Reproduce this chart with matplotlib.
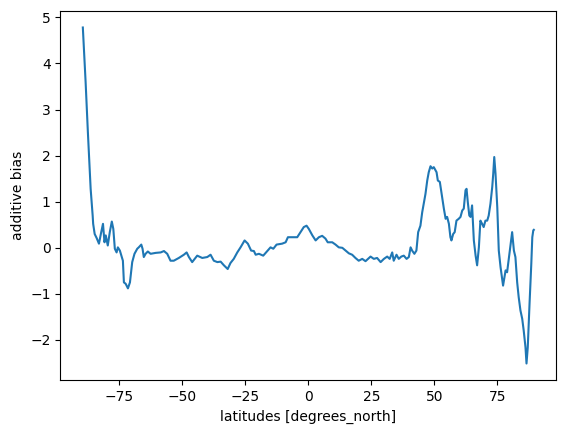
import matplotlib
matplotlib.use("Agg")
import matplotlib.pyplot as plt

# valeurs (latitude, biais additif)
lats = [-89.5, -88.4, -87.5, -86.4, -85.6, -85.4, -84.8, -84.0, -83.1, -82.2,
        -81.5, -80.9, -80.4, -79.6, -78.8, -78.0, -77.4, -76.8, -76.1, -75.6,
        -74.8, -74.2, -73.6, -73.2, -72.5, -71.6, -70.8, -69.9, -69.0, -67.9,
        -67.3, -66.3, -65.8, -65.3, -64.6, -63.7, -62.6, -60.6, -58.6, -57.3,
        -56.0, -54.7, -53.4, -51.4, -49.4, -48.3, -47.4, -46.1, -44.1, -42.1,
        -40.1, -38.8, -37.5, -36.1, -34.8, -33.5, -32.0, -30.9, -29.6, -28.2,
        -26.9, -25.3, -24.0, -22.7, -21.6, -20.9, -19.6, -17.9, -16.3, -15.0,
        -13.9, -12.6, -10.4, -9.0, -8.1, -6.4, -4.4, -3.1, -1.8, -0.7,
        0.2, 1.6, 2.9, 4.2, 5.5, 6.8, 7.7, 9.5, 10.8, 12.1,
        13.5, 14.8, 16.1, 17.4, 18.7, 20.0, 21.4, 22.7, 24.7, 26.0,
        27.3, 28.7, 30.0, 31.3, 32.3, 33.3, 33.9, 35.0, 35.9, 36.9,
        37.9, 39.0, 39.9, 40.6, 41.2, 42.1, 42.9, 43.6, 44.5, 45.2,
        45.8, 46.5, 47.2, 47.8, 48.5, 49.2, 49.8, 50.9, 51.4, 52.2,
        53.1, 53.8, 54.5, 55.1, 55.8, 56.4, 56.8, 57.5, 58.1, 58.8,
        59.7, 60.4, 61.1, 61.7, 62.4, 62.8, 63.3, 63.9, 64.4, 65.0,
        65.7, 66.4, 67.0, 67.7, 68.3, 69.0, 69.6, 70.3, 71.0, 71.6,
        72.3, 73.0, 73.4, 73.8, 74.3, 75.0, 75.6, 76.3, 77.3, 78.3,
        78.9, 80.0, 80.9, 81.6, 82.2, 82.9, 83.5, 84.2, 84.9, 85.5,
        86.2, 86.6, 87.1, 87.8, 88.5, 88.9, 89.3, 89.5]
bias = [4.78, 3.60, 2.51, 1.28, 0.70, 0.52, 0.30, 0.21, 0.09, 0.34,
        0.52, 0.12, 0.27, 0.05, 0.34, 0.57, 0.41, -0.02, -0.10, 0.01,
        -0.06, -0.17, -0.28, -0.75, -0.78, -0.88, -0.75, -0.31, -0.13, -0.02,
        0.01, 0.07, -0.02, -0.20, -0.13, -0.08, -0.13, -0.11, -0.10, -0.07,
        -0.13, -0.28, -0.28, -0.22, -0.15, -0.10, -0.20, -0.31, -0.17, -0.22,
        -0.20, -0.15, -0.28, -0.31, -0.30, -0.38, -0.46, -0.33, -0.24, -0.10,
        0.01, 0.16, 0.09, -0.06, -0.07, -0.15, -0.13, -0.17, -0.07, 0.01,
        -0.02, 0.07, 0.09, 0.12, 0.23, 0.23, 0.23, 0.34, 0.45, 0.48,
        0.41, 0.27, 0.16, 0.23, 0.26, 0.20, 0.12, 0.12, 0.07, 0.01,
        0.00, -0.06, -0.12, -0.15, -0.22, -0.28, -0.24, -0.29, -0.19, -0.24,
        -0.22, -0.31, -0.24, -0.19, -0.24, -0.10, -0.28, -0.15, -0.24, -0.19,
        -0.17, -0.24, -0.20, 0.01, -0.06, -0.13, -0.06, 0.34, 0.48, 0.77,
        0.96, 1.17, 1.46, 1.64, 1.77, 1.72, 1.75, 1.64, 1.46, 1.43,
        1.10, 0.85, 0.63, 0.67, 0.52, 0.23, 0.16, 0.30, 0.34, 0.59,
        0.63, 0.67, 0.81, 0.85, 1.25, 1.28, 0.99, 0.70, 0.67, 0.92,
        0.16, -0.17, -0.38, 0.01, 0.59, 0.52, 0.45, 0.59, 0.59, 0.70,
        0.96, 1.32, 1.61, 1.97, 1.61, 0.88, -0.06, -0.42, -0.82, -0.49,
        -0.53, -0.06, 0.34, -0.06, -0.20, -0.75, -1.07, -1.36, -1.54, -1.80,
        -2.16, -2.51, -2.16, -1.22, -0.35, 0.23, 0.38, 0.39]

fig = plt.figure(figsize=(5.65, 4.33), dpi=100)
ax = fig.add_axes([0.1067, 0.1217, 0.878, 0.8536])

ax.plot(lats, bias, color='#1f77b4', linewidth=1.5)

ax.set_xlabel('latitudes [degrees_north]')
ax.set_ylabel('additive bias')

fig.savefig('out.png', dpi=100)
plt.close()
